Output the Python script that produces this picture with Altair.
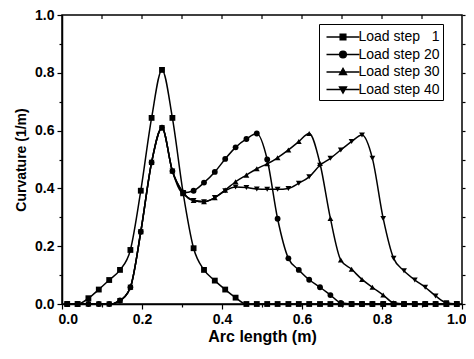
import altair as alt
import pandas as pd

# Sample positions along the arc (m)
arc_length = [0.013, 0.039, 0.066, 0.092, 0.118, 0.145, 0.171, 0.197, 0.224, 0.250,
              0.276, 0.303, 0.329, 0.355, 0.382, 0.408, 0.434, 0.461, 0.487, 0.513,
              0.539, 0.566, 0.592, 0.618, 0.645, 0.671, 0.697, 0.724, 0.750, 0.776,
              0.803, 0.829, 0.855, 0.882, 0.908, 0.934, 0.961, 0.987]

series_labels = ["Load step \u20071", "Load step 20", "Load step 30", "Load step 40"]

step_1 = [0, 0, 0.02, 0.05, 0.083, 0.118, 0.187, 0.392, 0.644, 0.81,
          0.644, 0.383, 0.193, 0.118, 0.081, 0.05, 0.022, 0, 0, 0,
          0, 0, 0, 0, 0, 0, 0, 0, 0, 0,
          0, 0, 0, 0, 0, 0, 0, 0]
step_20 = [0, 0, 0, 0, 0, 0.012, 0.058, 0.25, 0.49, 0.61,
           0.46, 0.385, 0.392, 0.42, 0.457, 0.502, 0.542, 0.571, 0.59, 0.50,
           0.295, 0.158, 0.118, 0.084, 0.058, 0.031, 0.004, 0, 0, 0,
           0, 0, 0, 0, 0, 0, 0, 0]
step_30 = [0, 0, 0, 0, 0, 0.012, 0.058, 0.25, 0.49, 0.61,
           0.46, 0.385, 0.358, 0.354, 0.368, 0.394, 0.423, 0.446, 0.468, 0.485,
           0.506, 0.533, 0.562, 0.59, 0.486, 0.296, 0.152, 0.12, 0.085, 0.058,
           0.031, 0.004, 0, 0, 0, 0, 0, 0]
step_40 = [0, 0, 0, 0, 0, 0.012, 0.058, 0.25, 0.49, 0.61,
           0.46, 0.385, 0.358, 0.354, 0.368, 0.392, 0.405, 0.403, 0.398, 0.397,
           0.397, 0.40, 0.418, 0.44, 0.48, 0.504, 0.533, 0.562, 0.585, 0.504,
           0.296, 0.158, 0.115, 0.083, 0.058, 0.028, 0.004, 0]

tick_values = [0.0, 0.1, 0.2, 0.3, 0.4, 0.5, 0.6, 0.7, 0.8, 0.9, 1.0]
inner_ticks = [0.1, 0.2, 0.3, 0.4, 0.5, 0.6, 0.7, 0.8, 0.9]

marker_shapes = ["square", "circle", "triangle-up", "triangle-down"]
legend_paths = [
    "M-1.94,0H1.94M-0.34,-0.34H0.34V0.34H-0.34Z",
    "M-1.94,0H1.94M0.4,0A0.4,0.4,0,1,1,-0.4,0A0.4,0.4,0,1,1,0.4,0Z",
    "M-1.94,0H1.94M0,-0.44L0.42,0.3H-0.42Z",
    "M-1.94,0H1.94M0,0.44L0.42,-0.3H-0.42Z",
]

rows = []
for lab, ys in zip(series_labels, [step_1, step_20, step_30, step_40]):
    for xv, yv in zip(arc_length, ys):
        rows.append({"arc": xv, "curv": yv, "series": lab})
df = pd.DataFrame(rows)

FONT = "Liberation Sans"
label_expr = "round(datum.value * 10) % 2 == 0 ? format(datum.value, '.1f') : ''"
tick_size = {"condition": {"test": "round(datum.value * 10) % 2 == 0", "value": 5}, "value": 3}

x_scale = alt.Scale(domain=[0, 1], nice=False)
y_scale = alt.Scale(domain=[0, 1], nice=False)

x_axis = alt.Axis(values=tick_values, title="Arc length (m)", labelExpr=label_expr,
                  tickSize=tick_size, tickColor="black", tickWidth=1.2,
                  domainColor="black", domainWidth=1.5, labelFlush=True, labelFlushOffset=4,
                  labelFont=FONT, labelFontWeight="bold", labelFontSize=14, labelColor="black",
                  labelPadding=3, titleFont=FONT, titleFontWeight="bold", titleFontSize=16,
                  titleColor="black", titlePadding=2, grid=False)
y_axis = alt.Axis(values=tick_values, title="Curvature (1/m)", labelExpr=label_expr,
                  tickSize=tick_size, tickColor="black", tickWidth=1.2,
                  domainColor="black", domainWidth=1.5, labelFlush=False,
                  labelFont=FONT, labelFontWeight="bold", labelFontSize=14, labelColor="black",
                  labelPadding=3, titleFont=FONT, titleFontWeight="bold", titleFontSize=14,
                  titleColor="black", titlePadding=6, grid=False)

base = alt.Chart(df)

lines = base.mark_line(interpolate="monotone", color="black", strokeWidth=1.5).encode(
    x=alt.X("arc:Q", scale=x_scale, axis=x_axis),
    y=alt.Y("curv:Q", scale=y_scale, axis=y_axis),
    detail="series:N",
)

points = base.mark_point(filled=True, color="black", size=34, opacity=1).encode(
    x=alt.X("arc:Q", axis=None),
    y=alt.Y("curv:Q", axis=None),
    shape=alt.Shape("series:N", scale=alt.Scale(domain=series_labels, range=marker_shapes),
                    legend=None),
)

legend_layer = base.mark_point(filled=False, color="black", fill="black",
                               strokeWidth=1.3, opacity=0).encode(
    x=alt.X("arc:Q", axis=None),
    y=alt.Y("curv:Q", axis=None),
    shape=alt.Shape("series:N", scale=alt.Scale(domain=series_labels, range=legend_paths),
                    legend=alt.Legend(title=None, orient="none", legendX=257, legendY=9,
                                      strokeColor="black", fillColor="white", padding=3.5,
                                      labelFont=FONT, labelFontSize=14, labelColor="black",
                                      symbolSize=289, symbolOffset=11, labelOffset=6,
                                      symbolStrokeWidth=1.3, symbolOpacity=1,
                                      rowPadding=0.5)),
)

top_ticks = alt.Chart(pd.DataFrame({"t": inner_ticks})).mark_rule(
    color="black", strokeWidth=1.2).encode(
    x=alt.X("t:Q", axis=None),
    y=alt.value(0),
    y2=alt.value(4),
)

right_axis = alt.Chart(pd.DataFrame({"t": tick_values})).mark_point(opacity=0).encode(
    y=alt.Y("t:Q", axis=alt.Axis(orient="right", values=tick_values, labels=False, title=None,
                                 tickSize=3, tickColor="black", tickWidth=1.2, domain=False,
                                 grid=False)),
)

chart = alt.layer(lines, points, top_ticks, right_axis, legend_layer).resolve_scale(
    shape="independent"
).resolve_axis(x="independent", y="independent").properties(
    width=400, height=289,
    padding={"left": 54, "top": 7, "right": 4, "bottom": 43},
    autosize=alt.AutoSizeParams(type="none"),
    background="white",
).configure_view(stroke="black", strokeWidth=1.5)

chart.save("out.html", embed_options={"renderer": "svg", "actions": False})
